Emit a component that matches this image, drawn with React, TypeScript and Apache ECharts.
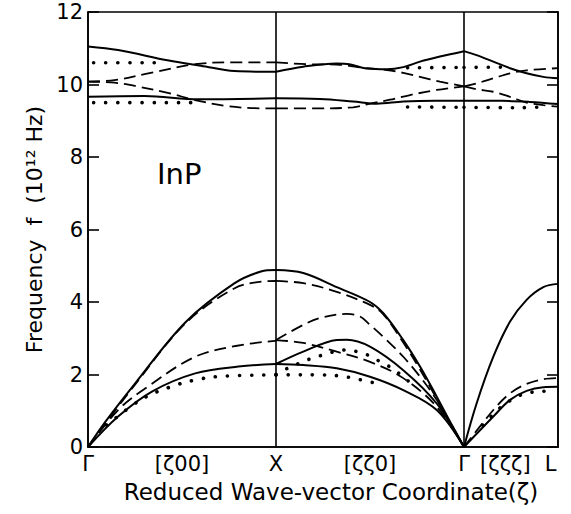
import React, { useEffect, useRef } from 'react';
import * as echarts from 'echarts';

// x positions of the symmetry-point labels (path coordinate: Γ=0, X=1, Γ=2, L=2.5)
const xLabelValues = [0, 0.5, 1, 1.5, 2, 2.22, 2.46];
const xLabelTexts = ['Γ', '[ζ00]', 'X', '[ζζ0]', 'Γ', '[ζζζ]', 'L'];
const symmetryLines = [1, 2];

// ---- [ζ00] branch (Γ → X) ----
const gxSolidLA = [[0, 0], [0.09, 0.68], [0.25, 1.75], [0.52, 3.45], [0.78, 4.52], [0.92, 4.84], [1, 4.88]];
const gxDashLA = [[0, 0], [0.25, 1.72], [0.52, 3.42], [0.78, 4.38], [0.92, 4.56], [1, 4.58]];
const gxDashTA = [[0, 0], [0.16, 1.02], [0.3, 1.6], [0.57, 2.49], [0.8, 2.8], [1, 2.93]];
const gxSolidTA = [[0, 0], [0.16, 0.84], [0.34, 1.53], [0.57, 2.03], [0.8, 2.22], [1, 2.29]];
const gxDotTA = [[0.1, 0.6], [0.28, 1.3], [0.44, 1.66], [0.58, 1.86], [0.71, 1.95], [1, 1.99]];
const gxSolidLO = [[0, 11.05], [0.16, 10.95], [0.43, 10.66], [0.6, 10.52], [0.78, 10.37], [1, 10.35]];
const gxSolidTO = [[0, 9.66], [0.3, 9.68], [0.59, 9.59], [1, 9.62]];
const gxDashOptUp = [[0, 10.08], [0.14, 10.12], [0.34, 10.33], [0.57, 10.56], [0.75, 10.61], [1, 10.61]];
const gxDashOptLow = [[0, 10.08], [0.14, 10.05], [0.25, 9.96], [0.43, 9.76], [0.57, 9.57], [0.73, 9.41], [0.87, 9.35], [1, 9.34]];
const gxDotOptUp = [[0.03, 10.6], [0.41, 10.6]];
const gxDotOptLow = [[0.03, 9.5], [0.55, 9.5]];

// ---- [ζζ0] branch (X → Γ) ----
const xgSolidTop = [[1, 4.88], [1.145, 4.8], [1.323, 4.41], [1.5, 4.0], [1.571, 3.69], [1.677, 2.95], [1.766, 2.22], [1.855, 1.39], [1.926, 0.7], [2, 0]];
const xgDashTop = [[1, 4.58], [1.145, 4.52], [1.323, 4.28], [1.5, 3.92], [1.571, 3.66], [1.677, 2.88], [1.766, 2.14], [1.855, 1.33], [1.926, 0.65], [2, 0]];
const xgDashMid1 = [[1, 2.95], [1.145, 3.37], [1.235, 3.56], [1.376, 3.67], [1.447, 3.6], [1.5, 3.37], [1.589, 2.95], [1.677, 2.49], [1.766, 1.94], [1.855, 1.3], [1.926, 0.66], [2, 0]];
const xgDashMid2 = [[1, 2.95], [1.145, 2.87], [1.323, 2.63], [1.5, 2.35], [1.677, 1.9], [1.855, 1.11], [2, 0]];
const xgSolidMid = [[1, 2.29], [1.145, 2.63], [1.323, 2.95], [1.376, 2.96], [1.5, 2.77], [1.677, 2.12], [1.855, 1.2], [2, 0]];
const xgSolidLow = [[1, 2.29], [1.145, 2.26], [1.323, 2.17], [1.5, 1.94], [1.677, 1.57], [1.855, 1.02], [2, 0]];
const xgDotUp = [[1, 2.0], [1.04, 2.12], [1.18, 2.43], [1.25, 2.54], [1.31, 2.63], [1.38, 2.68], [1.45, 2.6], [1.51, 2.49], [1.56, 2.33], [1.62, 2.17], [1.67, 1.96], [1.72, 1.75]];
const xgDotLow = [[1, 1.99], [1.09, 1.99], [1.22, 1.99], [1.34, 1.96], [1.41, 1.9], [1.47, 1.83], [1.53, 1.76]];
const xgSolidLO = [[1, 10.35], [1.145, 10.49], [1.323, 10.58], [1.39, 10.56], [1.48, 10.44], [1.59, 10.42], [1.677, 10.48], [1.766, 10.63], [1.872, 10.77], [2, 10.92]];
const xgSolidTO = [[1, 9.62], [1.234, 9.6], [1.41, 9.53], [1.535, 9.47], [1.677, 9.53], [1.85, 9.55], [2, 9.55]];
const xgDashOptUp = [[1, 10.61], [1.163, 10.56], [1.323, 10.55], [1.48, 10.45], [1.59, 10.4], [1.677, 10.32], [1.766, 10.21], [1.872, 10.08], [2, 9.95]];
const xgDashOptLow = [[1, 9.34], [1.2, 9.34], [1.41, 9.37], [1.5, 9.47], [1.606, 9.58], [1.713, 9.71], [1.855, 9.85], [2, 9.95]];
const xgDotOptUp = [[1.7, 10.46], [2, 10.47]];
const xgDotOptLow = [[1.7, 9.38], [2, 9.37]];

// ---- [ζζζ] branch (Γ → L) ----
const glSolidLA = [[2, 0], [2.067, 1.2], [2.156, 2.49], [2.245, 3.46], [2.333, 4.06], [2.422, 4.41], [2.5, 4.5]];
const glDashTA = [[2, 0], [2.156, 1.02], [2.245, 1.48], [2.333, 1.74], [2.422, 1.87], [2.5, 1.9]];
const glSolidTA = [[2, 0], [2.156, 0.84], [2.245, 1.3], [2.333, 1.55], [2.422, 1.65], [2.5, 1.66]];
const glDotTA = [[2.1, 0.6], [2.19, 1.07], [2.245, 1.28], [2.3, 1.43], [2.36, 1.51], [2.42, 1.54], [2.49, 1.54]];
const glSolidLO = [[2, 10.92], [2.067, 10.81], [2.156, 10.63], [2.245, 10.45], [2.333, 10.31], [2.422, 10.21], [2.5, 10.17]];
const glSolidTO = [[2, 9.55], [2.2, 9.55], [2.35, 9.52], [2.5, 9.46]];
const glDashOptUp = [[2, 9.95], [2.067, 10.03], [2.156, 10.17], [2.245, 10.31], [2.333, 10.39], [2.5, 10.45]];
const glDashOptLow = [[2, 9.95], [2.067, 9.87], [2.156, 9.8], [2.245, 9.66], [2.333, 9.5], [2.422, 9.43], [2.5, 9.39]];
const glDotOptUp = [[2, 10.47], [2.2, 10.48]];
const glDotOptLow = [[2, 9.37], [2.3, 9.36], [2.43, 9.38]];

const solidCurves = [gxSolidLA, gxSolidTA, gxSolidLO, gxSolidTO, xgSolidTop, xgSolidMid, xgSolidLow, xgSolidLO, xgSolidTO, glSolidLA, glSolidTA, glSolidLO, glSolidTO];
const dashedCurves = [gxDashLA, gxDashTA, gxDashOptUp, gxDashOptLow, xgDashTop, xgDashMid1, xgDashMid2, xgDashOptUp, xgDashOptLow, glDashTA, glDashOptUp, glDashOptLow];
const dottedCurves = [gxDotTA, gxDotOptUp, gxDotOptLow, xgDotUp, xgDotLow, xgDotOptUp, xgDotOptLow, glDotTA, glDotOptUp, glDotOptLow];

const FONT = 'DejaVu Sans';

export default function App() {
  const ref = useRef<HTMLDivElement>(null);
  useEffect(() => {
    if (!ref.current) return;
    const chart = echarts.init(ref.current, null, { renderer: 'svg' });
    const mk = (data: number[][], lineStyle: any) => ({
      type: 'line',
      data,
      showSymbol: false,
      symbol: 'none',
      smooth: 0.35,
      lineStyle: { color: '#000', ...lineStyle },
      silent: true,
      z: 3,
    });
    const series: any[] = [
      ...solidCurves.map((d) => mk(d, { width: 2, type: 'solid' })),
      ...dashedCurves.map((d) => mk(d, { width: 1.8, type: [12, 6] })),
      ...dottedCurves.map((d) => mk(d, { width: 3.6, type: [0.1, 12], cap: 'round' })),
      {
        type: 'line',
        data: [],
        markLine: {
          silent: true,
          symbol: 'none',
          label: { show: false },
          lineStyle: { color: '#000', width: 1.6, type: 'solid' },
          data: symmetryLines.map((v) => ({ xAxis: v })),
        },
      },
    ];
    chart.setOption({
      animation: false,
      backgroundColor: '#fff',
      grid: { left: 88, right: 13, top: 12, bottom: 67, show: true, borderColor: '#000', borderWidth: 1.6 },
      xAxis: {
        type: 'value',
        min: 0,
        max: 2.5,
        axisLine: { show: true, lineStyle: { color: '#000', width: 1.6 } },
        axisTick: { show: false },
        splitLine: { show: false },
        axisLabel: {
          customValues: xLabelValues,
          formatter: (v: number) => {
            const i = xLabelValues.findIndex((x) => Math.abs(x - v) < 1e-6);
            return i >= 0 ? xLabelTexts[i] : '';
          },
          color: '#000',
          fontFamily: FONT,
          fontSize: 21,
          margin: 6,
        },
        name: 'Reduced Wave-vector Coordinate(ζ)',
        nameLocation: 'middle',
        nameGap: 33,
        nameTextStyle: { color: '#000', fontFamily: FONT, fontSize: 23, padding: [0, 0, 0, 16] },
      },
      yAxis: [
        {
          type: 'value',
          min: 0,
          max: 12,
          interval: 2,
          axisLine: { show: true, lineStyle: { color: '#000', width: 1.6 } },
          axisTick: { show: true, inside: true, length: 11, lineStyle: { color: '#000', width: 1.6 } },
          splitLine: { show: false },
          axisLabel: { color: '#000', fontFamily: FONT, fontSize: 21, margin: 5 },
          name: 'Frequency  f  (10¹² Hz)',
          nameLocation: 'middle',
          nameRotate: 90,
          nameGap: 41,
          nameTextStyle: { color: '#000', fontFamily: FONT, fontSize: 22 },
        },
        {
          type: 'value',
          position: 'right',
          min: 0,
          max: 12,
          interval: 2,
          axisLine: { show: true, lineStyle: { color: '#000', width: 1.6 } },
          axisTick: { show: true, inside: true, length: 11, lineStyle: { color: '#000', width: 1.6 } },
          splitLine: { show: false },
          axisLabel: { show: false },
        },
      ],
      graphic: [
        {
          type: 'text',
          left: 157,
          top: 159,
          style: { text: 'InP', fill: '#000', font: `29px "${FONT}"` },
        },
      ],
      series,
    });
    return () => chart.dispose();
  }, []);
  return <div ref={ref} style={{ position: 'fixed', left: 0, top: 0, width: 571, height: 514, background: '#fff' }} />;
}
